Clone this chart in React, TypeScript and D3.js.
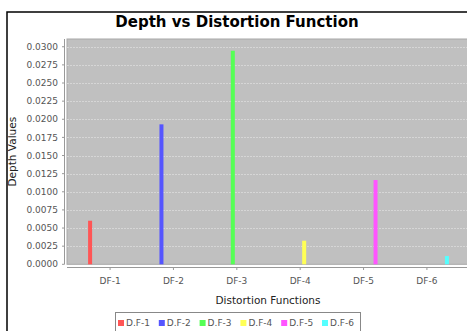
import React from "react";
import * as d3 from "d3";

const categories = ["DF-1", "DF-2", "DF-3", "DF-4", "DF-5", "DF-6"];
const seriesNames = ["D.F-1", "D.F-2", "D.F-3", "D.F-4", "D.F-5", "D.F-6"];
const seriesColors = ["#ff5555", "#5555ff", "#55ff55", "#ffff55", "#ff55ff", "#55ffff"];
// value of each series at its own category (other cells zero)
const seriesValues = [0.00601, 0.0193, 0.02945, 0.00325, 0.01162, 0.00114];
const yTicks = [0, 0.0025, 0.005, 0.0075, 0.01, 0.0125, 0.015, 0.0175, 0.02, 0.0225, 0.025, 0.0275, 0.03];

export default function App() {
  const W = 467, H = 331;
  const plotL = 67, plotT = 39, plotB = 264.3, plotR = 470;
  const yMax = d3.max(seriesValues)! * 1.055;
  const y = d3.scaleLinear().domain([0, yMax]).range([plotB, plotT]);
  const x = d3.scaleBand<string>().domain(categories).range([plotL, plotR]).paddingInner(0).paddingOuter(0.18);
  const inner = d3.scaleBand<string>().domain(seriesNames).range([-24, 24]).paddingInner(0.5).paddingOuter(0.25);
  const fmt = d3.format(".4f");
  const barW = 4;

  return (
    <svg width={W} height={H} style={{ position: "absolute", left: 0, top: 0, background: "#fff" }}
      fontFamily="DejaVu Sans, sans-serif">
      {/* outer border */}
      <rect x={7} y={12} width={W + 10} height={H + 10} fill="none" stroke="#000" strokeWidth={1.5} />
      <text x={237} y={27} textAnchor="middle" fontSize={15} fontWeight="bold" fill="#000">
        Depth vs Distortion Function
      </text>
      {/* plot background */}
      <rect x={plotL} y={plotT} width={plotR - plotL} height={plotB - plotT} fill="#c0c0c0" stroke="#a8a8a8" strokeWidth={1} />
      {yTicks.slice(1).map((t) => (
        <line key={t} x1={plotL} x2={plotR} y1={Math.round(y(t)) + 0.5} y2={Math.round(y(t)) + 0.5}
          stroke="#d6d6d6" strokeWidth={1} strokeDasharray="2,1" />
      ))}
      {/* bars */}
      {seriesValues.map((v, i) => {
        const cx = x(categories[i])! + x.bandwidth() / 2 + inner(seriesNames[i])! + inner.bandwidth() / 2;
        return (
          <rect key={i} x={cx - barW / 2} y={y(v)} width={barW} height={plotB - y(v)} fill={seriesColors[i]} />
        );
      })}
      {/* y axis */}
      <line x1={64.5} x2={64.5} y1={plotT} y2={plotB} stroke="#999" />
      {yTicks.map((t) => (
        <g key={t}>
          <line x1={62} x2={64.5} y1={y(t)} y2={y(t)} stroke="#999" />
          <text x={58} y={y(t)} dy="0.35em" textAnchor="end" fontSize={9} fill="#555">{fmt(t)}</text>
        </g>
      ))}
      <text transform={`translate(16,${(plotT + plotB) / 2}) rotate(-90)`} textAnchor="middle" fontSize={10.5} fill="#222">
        Depth Values
      </text>
      {/* x axis */}
      <line x1={plotL} x2={plotR} y1={267.5} y2={267.5} stroke="#999" />
      {categories.map((c) => {
        const cx = x(c)! + x.bandwidth() / 2;
        return (
          <g key={c}>
            <line x1={cx} x2={cx} y1={267.5} y2={270} stroke="#999" />
            <text x={cx} y={281} dy="0.35em" textAnchor="middle" fontSize={9} fill="#555">{c}</text>
          </g>
        );
      })}
      <text x={268} y={300} dy="0.35em" textAnchor="middle" fontSize={10.5} fill="#222">Distortion Functions</text>
      {/* legend */}
      <rect x={115.5} y={312.5} width={245} height={30} fill="#fff" stroke="#888" strokeWidth={1} />
      {seriesNames.map((s, i) => {
        const lx = 118 + i * 40.8;
        return (
          <g key={s}>
            <rect x={lx} y={320} width={6} height={6} fill={seriesColors[i]} />
            <text x={lx + 8} y={323} dy="0.35em" fontSize={9} fill="#555">{s}</text>
          </g>
        );
      })}
    </svg>
  );
}
